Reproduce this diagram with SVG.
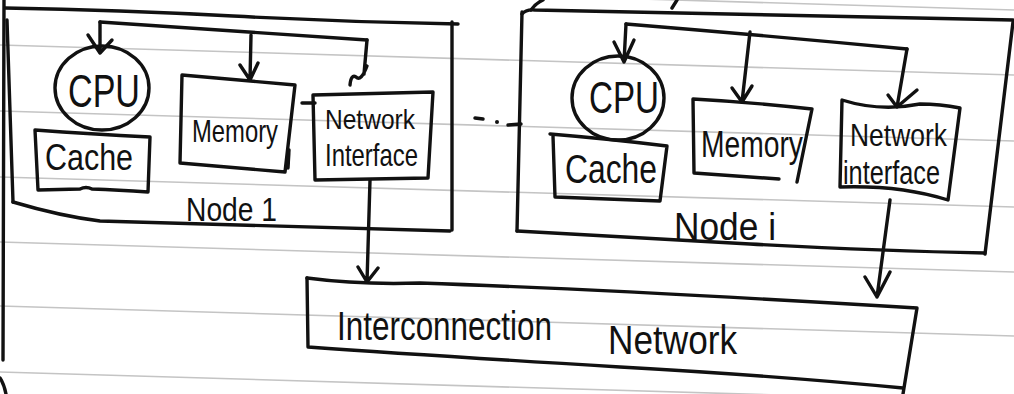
<svg xmlns="http://www.w3.org/2000/svg" width="1014" height="394" viewBox="0 0 1014 394">
<defs>
<style>
.ink{fill:none;stroke:#111;stroke-width:3.4;stroke-linecap:round;stroke-linejoin:round}
.rule{stroke:#c4c4c4;stroke-width:1.6}
.t{font-family:"Liberation Sans",Arial,sans-serif;fill:#111;text-anchor:start}
</style>
</defs>
<rect width="1014" height="394" fill="#ffffff"/>
<g id="paper-rules">
<line class="rule" x1="0" y1="-20" x2="1014" y2="10"/>
<line class="rule" x1="0" y1="45" x2="1014" y2="75"/>
<line class="rule" x1="0" y1="111" x2="1014" y2="141"/>
<line class="rule" x1="0" y1="177" x2="1014" y2="207"/>
<line class="rule" x1="0" y1="242" x2="1014" y2="272"/>
<line class="rule" x1="0" y1="306" x2="1014" y2="336"/>
<line class="rule" x1="0" y1="372" x2="1014" y2="402"/>
</g>
<g id="margin-strokes">
<path class="ink" d="M4,0 L3,360"/>
<path class="ink" d="M0,378 Q4,384 6,394"/>
<path class="ink" d="M531,10 Q536,3 543,0"/>
<path class="ink" d="M672,8 L677,0"/>
</g>
<g id="node1">
<path class="ink" d="M5,8 Q120,10 233,16 T458,24"/>
<path class="ink" d="M7,20 L13,202"/>
<path class="ink" d="M452,22 L452,230"/>
<path class="ink" d="M13,202 Q60,216 100,221 L450,231"/>
<text class="t" x="186" y="221" font-size="33" textLength="91" lengthAdjust="spacingAndGlyphs">Node 1</text>
<g id="node1-cpu">
<ellipse class="ink" cx="102" cy="88" rx="47" ry="42"/>
<text class="t" x="68" y="107" font-size="46" textLength="72" lengthAdjust="spacingAndGlyphs">CPU</text>
</g>
<g id="node1-cache">
<path class="ink" d="M35,130 Q90,134 150,137 L148,192 Q118,190 92,189 Q86,186 80,189 L38,190 Z"/>
<text class="t" x="45" y="170" font-size="37" textLength="88" lengthAdjust="spacingAndGlyphs">Cache</text>
</g>
<g id="node1-memory">
<path class="ink" d="M182,75 L295,85 L285,172 L180,163 Z"/>
<path class="ink" d="M289,150 L288,168"/>
<text class="t" x="192" y="142" font-size="32" textLength="86" lengthAdjust="spacingAndGlyphs">Memory</text>
</g>
<g id="node1-ni">
<path class="ink" d="M313,95 L433,92 L428,178 L315,180 Z"/>
<path class="ink" d="M302,103 L315,103"/>
<text class="t" x="325" y="129" font-size="28" textLength="90" lengthAdjust="spacingAndGlyphs">Network</text>
<text class="t" x="325" y="166" font-size="32" textLength="93" lengthAdjust="spacingAndGlyphs">Interface</text>
</g>
</g>
<g id="nodei">
<path class="ink" d="M522,14 Q526,9 535,10 Q770,14 1013,20"/>
<path class="ink" d="M522,12 L517,231"/>
<path class="ink" d="M517,231 Q620,237 750,244 T985,253"/>
<path class="ink" d="M1013,22 L985,254"/>
<text class="t" x="674" y="240" font-size="38" textLength="102" lengthAdjust="spacingAndGlyphs">Node i</text>
<g id="nodei-cpu">
<ellipse class="ink" cx="618" cy="98" rx="46" ry="42"/>
<text class="t" x="589" y="113" font-size="45" textLength="70" lengthAdjust="spacingAndGlyphs">CPU</text>
</g>
<g id="nodei-cache">
<path class="ink" d="M550,134 Q610,139 667,146 L660,201 L555,197 L553,136"/>
<text class="t" x="565" y="183" font-size="40" textLength="92" lengthAdjust="spacingAndGlyphs">Cache</text>
</g>
<g id="nodei-memory">
<path class="ink" d="M779,179 L694,173 L693,99 Q750,102 812,109 L797,182"/>
<text class="t" x="701" y="157" font-size="36" textLength="102" lengthAdjust="spacingAndGlyphs">Memory</text>
</g>
<g id="nodei-ni">
<path class="ink" d="M842,100 Q880,112 920,104 Q940,104 960,108 L948,200 Q900,185 840,187 Z"/>
<text class="t" x="850" y="146" font-size="32" textLength="97" lengthAdjust="spacingAndGlyphs">Network</text>
<text class="t" x="843" y="184" font-size="33" textLength="97" lengthAdjust="spacingAndGlyphs">interface</text>
</g>
</g>
<g id="interconnection-network">
<path class="ink" d="M307,278 Q360,285 420,283 Q620,290 917,308 L903,394"/>
<path class="ink" d="M307,278 L308,347 Q420,355 620,367 Q780,376 903,388"/>
<text class="t" x="337" y="340" font-size="40" textLength="215" lengthAdjust="spacingAndGlyphs">Interconnection</text>
<text class="t" x="608" y="354" font-size="40" textLength="129" lengthAdjust="spacingAndGlyphs">Network</text>
</g>
<g id="connectors">
<path class="ink" d="M100,22 Q250,32 367,40"/>
<path class="ink" d="M100,22 L100,53 M88,35 L100,53 L112,40"/>
<path class="ink" d="M251,35 L250,80 M240,65 L250,80 L258,63"/>
<path class="ink" d="M367,40 L364,74 M350,85 Q351,74 356,77 Q361,82 367,66"/>
<path class="ink" d="M370,180 L367,282 M358,267 L367,282 L378,268"/>
<path class="ink" d="M626,24 Q760,35 907,49"/>
<path class="ink" d="M626,24 L624,62 M614,42 L624,62 L634,40"/>
<path class="ink" d="M750,32 L742,102 M732,88 L742,102 L752,86"/>
<path class="ink" d="M907,49 L897,107 M888,95 L897,107 L917,90"/>
<path class="ink" d="M890,200 L877,297 M865,277 L877,297 L890,272"/>
<path class="ink" d="M475,118 L483,119 M508,125 L521,124"/>
<circle cx="497" cy="122" r="2" fill="#111"/>
</g>
</svg>
